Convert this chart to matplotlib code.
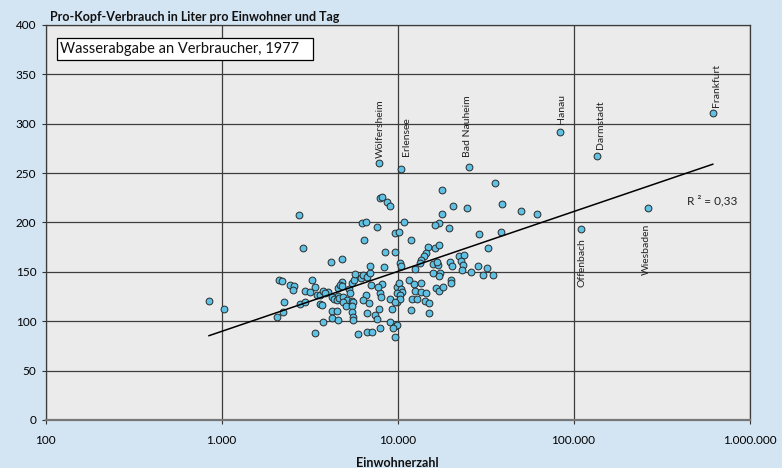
import numpy as np
import matplotlib
matplotlib.use("Agg")
import matplotlib.pyplot as plt
from matplotlib.patches import Rectangle

plt.rcParams['font.family'] = ['Lato', 'DejaVu Sans']

# Gemeinden ohne Beschriftung: Einwohner und Verbrauch (l je Einwohner und Tag)
einwohner = [849, 1029, 2130, 2206, 2440, 2592, 2545, 2255, 2245, 2075,
             2981, 3170, 2806, 2981, 2748, 2917, 3254, 3384, 3412, 3490,
             3620, 3606, 3787, 4027, 3873, 3709, 4224, 4512, 4224, 4560,
             3758, 4170, 4856, 4340, 4560, 4224, 4355, 4512, 4667, 4880,
             4560, 4856, 4710, 4856, 5303, 5373, 5140, 5495, 4920, 5610,
             5080, 5535, 5535, 5610, 5610, 5495, 5683, 5736, 6180, 6343,
             6682, 6982, 7046, 6596, 6343, 6855, 6730, 7443, 7614, 7855,
             7955, 8027, 8200, 7780, 9065, 9343, 9065, 9680, 9977, 9466,
             7955, 5985, 6730, 7135, 9680, 6982, 8420, 10330, 10423, 9977,
             10236, 10423, 10607, 9977, 10330, 9897, 10330, 9680, 11670, 12415,
             13600, 12570, 13550, 14460, 12140, 12850, 14400, 15100, 11900, 15100,
             16480, 17285, 18070, 20215, 20215, 15980, 17440, 17285, 15980, 17060,
             16830, 19950, 20320, 22440, 23960, 22960, 23650, 23340, 26160, 28780,
             32360, 30720, 35000, 14960, 16330, 17285, 14520, 14150, 13600, 13420,
             12620, 17900, 35950, 20680, 24925, 39260, 50120, 62020, 17900, 17285,
             16400, 19620, 29170, 38880, 32800, 7955, 8200, 8750, 9065, 6285,
             6622, 7675, 6475, 10840, 9680, 10236, 11855, 8495, 9680]
verbrauch = [120, 112, 141.5, 140.3, 137, 135.7, 132, 119.8, 109, 104.3,
             130.3, 129.3, 117.8, 119.2, 207.9, 173.9, 141.8, 134.7, 88.1, 126.9,
             126.9, 117.8, 131, 129.6, 128.3, 116.8, 110.7, 110.7, 103, 101.3,
             98.9, 160, 163.3, 123.2, 125.9, 124.9, 122.5, 121.5, 123.9, 124.9,
             133.4, 140, 136.7, 135.7, 132.4, 128.3, 121.5, 120.8, 119.8, 119.8,
             115.8, 115.8, 109.1, 104.6, 101.3, 139, 141.8, 147.5, 143.5, 147.1,
             145.1, 149.2, 136.7, 126.6, 121.5, 118.2, 108, 106.3, 102, 112.7,
             128.3, 124.9, 137.7, 134.4, 122.2, 112.1, 99.5, 95.5, 96.2, 92.9,
             92.9, 86.8, 88.8, 88.8, 84.4, 156.3, 154.6, 159.3, 155.7, 135,
             139, 132.7, 129.3, 128.3, 126.6, 119.8, 122.2, 119.2, 141.5, 137.7,
             138.4, 131, 130, 128.1, 122.5, 122.2, 120.8, 118.2, 111.4, 108,
             133.7, 131, 135, 141.8, 139.2, 149.2, 149.2, 145.5, 157.5, 157,
             160.3, 159.7, 155.7, 165.6, 166.6, 161, 156.5, 151.9, 149.4, 155.7,
             153.6, 147.3, 147.3, 174.7, 173.9, 177.7, 168.8, 166.1, 162, 158.7,
             153.2, 232.9, 239.5, 217.2, 214.4, 218.5, 211.3, 208.1, 208.6, 199.2,
             197.5, 194.7, 188.1, 190.4, 173.9, 224.5, 225.5, 220.3, 216.2, 199.2,
             200.2, 195.5, 182.3, 200.5, 189.4, 190.7, 182.3, 170.1, 170.1]

# beschriftete Orte
orte = ["Wölfersheim", "Erlensee", "Bad Nauheim", "Hanau", "Darmstadt",
        "Wiesbaden", "Offenbach", "Frankfurt"]
orte_einwohner = [7880, 10465, 25470, 84100, 135400, 264000, 109900, 618000]
orte_verbrauch = [260, 254.2, 256.2, 291.4, 267.7, 214.4, 193.4, 311.2]
# Versatz der Beschriftung in Punkt (dx, dy); negative dy = unterhalb
orte_versatz = [(1, 4), (4, 9), (-1, 7), (1, 6), (3, 5), (-1, -11), (1, -7), (3, 4)]

xticks = [100, 1000, 10000, 100000, 1000000]
xticklabels = ["100", "1.000", "10.000", "100.000", "1.000.000"]
yticks = [0, 50, 100, 150, 200, 250, 300, 350, 400]
r2_text = "R ² = 0,33"

alle_x = np.array(einwohner + orte_einwohner, dtype=float)
alle_y = np.array(verbrauch + orte_verbrauch, dtype=float)
b, a = np.polyfit(np.log10(alle_x), alle_y, 1)
trend_x = np.array([alle_x.min(), alle_x.max()])
trend_y = a + b * np.log10(trend_x)

fig = plt.figure(figsize=(7.82, 4.68), dpi=100, facecolor='#d3e4f3')
ax = fig.add_axes([0.0582, 0.1026, 0.9003, 0.844])
ax.set_facecolor('#ebebeb')

ax.set_xscale('log')
ax.set_xlim(100, 1000000)
ax.set_ylim(0, 400)
ax.set_xticks(xticks)
ax.set_xticklabels(xticklabels)
ax.xaxis.set_minor_locator(matplotlib.ticker.NullLocator())
ax.set_yticks(yticks)
ax.tick_params(axis='both', labelsize=8.5, length=3, width=0.8, color='#333333')
ax.tick_params(axis='x', pad=8)
ax.grid(True, color='#3c3c3c', linewidth=0.9)
ax.set_axisbelow(True)
for side in ['top', 'right', 'left']:
    ax.spines[side].set_color('#3c3c3c')
    ax.spines[side].set_linewidth(0.9)
ax.spines['bottom'].set_color('#777777')
ax.spines['bottom'].set_linewidth(1.6)

punkte = dict(s=24, c='#5fc2e4', edgecolors='#2a2a2a', linewidths=0.7, zorder=3)
ax.scatter(einwohner, verbrauch, **punkte)
ax.scatter(orte_einwohner, orte_verbrauch, **punkte)
ax.plot(trend_x, trend_y, color='black', linewidth=1.1, zorder=4)

for name, x, y, (dx, dy) in zip(orte, orte_einwohner, orte_verbrauch, orte_versatz):
    ax.annotate(name, (x, y), xytext=(dx, dy), textcoords='offset points',
                rotation=90, fontsize=7.5, color='#222222', ha='center',
                va='bottom' if dy > 0 else 'top', zorder=5)

ax.text(440000, 222, r2_text, fontsize=8.5, color='#222222', va='center', ha='left')

# Kasten mit Untertitel
ax.add_patch(Rectangle((0.0163, 0.911), 0.3636, 0.056, transform=ax.transAxes,
                       facecolor='white', edgecolor='black', linewidth=0.9, zorder=5))
ax.text(0.0206, 0.939, "Wasserabgabe an Verbraucher, 1977", transform=ax.transAxes,
        fontsize=10.5, va='center', ha='left', color='#111111', zorder=6)

fig.text(50 / 782, 1 - 17 / 468, "Pro-Kopf-Verbrauch in Liter pro Einwohner und Tag",
         fontsize=9, fontweight='bold', va='center', ha='left', color='#111111')
ax.set_xlabel("Einwohnerzahl", fontsize=9, fontweight='bold', labelpad=8, color='#111111')

fig.savefig('out.png', dpi=100, facecolor=fig.get_facecolor())
